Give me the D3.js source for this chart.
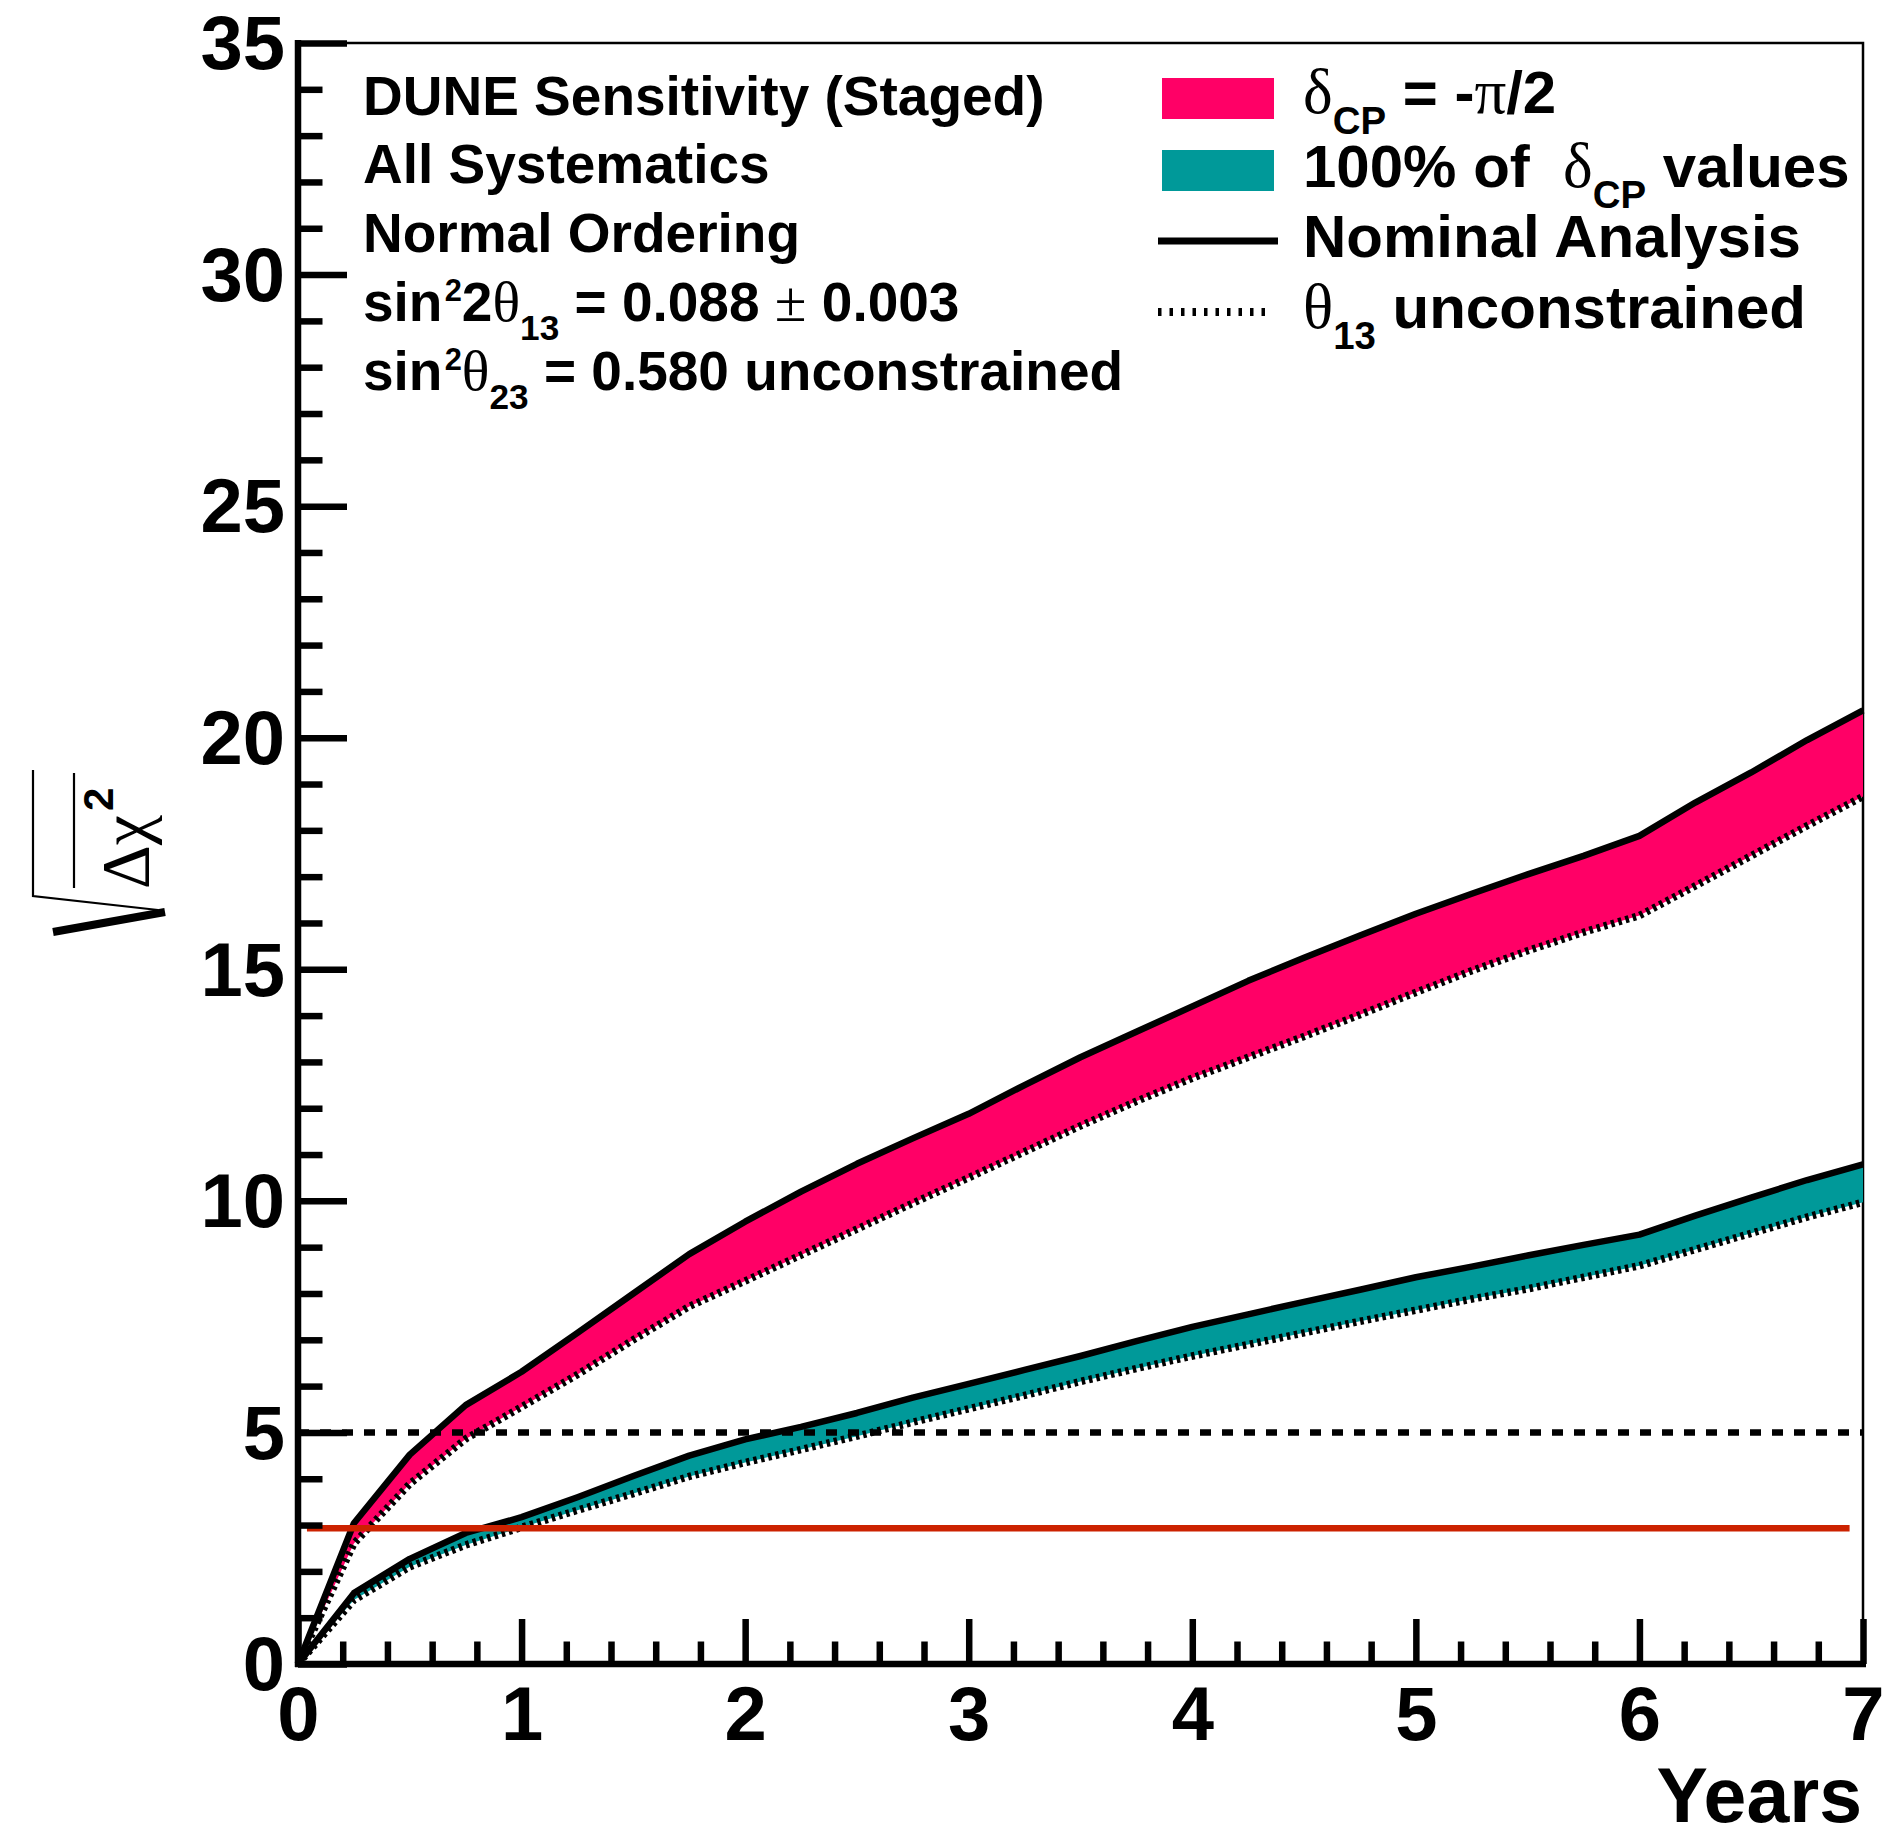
<!DOCTYPE html>
<html><head><meta charset="utf-8">
<script src="https://cdn.jsdelivr.net/npm/d3@7"></script>
<style>html,body{margin:0;padding:0;background:#fff;} svg{display:block;} text{white-space:pre;}</style>
</head><body>
<svg id="c" width="1886" height="1834"></svg>
<script>
// ---------------- data ----------------
const years = [0,0.25,0.5,0.75,1,1.25,1.5,1.75,2,2.25,2.5,2.75,3,3.25,3.5,3.75,4,4.25,4.5,4.75,5,5.25,5.5,5.75,6,6.25,6.5,6.75,7];
// delta_CP = -pi/2 band
const pinkNominal = [0,3.04,4.52,5.59,6.31,7.15,8.0,8.85,9.55,10.2,10.8,11.35,11.88,12.5,13.1,13.65,14.2,14.75,15.25,15.73,16.2,16.63,17.05,17.45,17.88,18.6,19.25,19.95,20.59];
const pinkTheta13Free = [0,2.6,3.89,4.86,5.55,6.25,7.0,7.72,8.27,8.83,9.39,9.95,10.5,11.06,11.62,12.15,12.65,13.1,13.55,14.02,14.5,14.97,15.4,15.8,16.16,16.8,17.45,18.1,18.73];
// 100% of delta_CP values band
const tealNominal = [0,1.53,2.27,2.83,3.17,3.6,4.06,4.5,4.85,5.12,5.42,5.75,6.05,6.35,6.65,6.97,7.28,7.55,7.82,8.08,8.35,8.58,8.82,9.05,9.27,9.68,10.07,10.45,10.79];
const tealTheta13Free = [0,1.38,2.1,2.57,2.95,3.32,3.68,4.05,4.35,4.63,4.92,5.22,5.51,5.8,6.1,6.38,6.65,6.9,7.15,7.4,7.64,7.88,8.1,8.35,8.6,8.95,9.3,9.65,9.97];
// reference levels
const fiveSigma = {value:5, from:0, to:7};
const threeSigma = {value:2.93, from:0.04, to:6.94};
// ticks
const xMajor = [0,1,2,3,4,5,6,7];
const yMajor = [0,5,10,15,20,25,30,35];
const xMinor = d3.range(0, 36).map(i => +(i*0.2).toFixed(2)).filter(v => Math.abs(v - Math.round(v)) > 1e-6);
const yMinor = d3.range(0, 36).filter(v => v % 5 !== 0);

const PINK = "#ff0066", TEAL = "#009999", RED = "#cc2200";
const SANS = "'Liberation Sans', Arial, Helvetica, sans-serif";
const SERIF = "'Liberation Serif', 'DejaVu Serif', serif";

// ---------------- layout ----------------
const svg = d3.select("#c");
const L = 298, R = 1863, T = 43, B = 1664;
const x = d3.scaleLinear().domain([0,7]).range([L,R]);
const y = d3.scaleLinear().domain([0,35]).range([B,T]);

const pinkData = years.map((t,i) => ({t, hi:pinkNominal[i], lo:pinkTheta13Free[i]}));
const tealData = years.map((t,i) => ({t, hi:tealNominal[i], lo:tealTheta13Free[i]}));

const area = d3.area().x(d => x(d.t)).y0(d => y(d.lo)).y1(d => y(d.hi));
const lineHi = d3.line().x(d => x(d.t)).y(d => y(d.hi));
const lineLo = d3.line().x(d => x(d.t)).y(d => y(d.lo));

// frame (thin)
svg.append("rect").attr("x",L).attr("y",T).attr("width",R-L).attr("height",B-T)
  .attr("fill","none").attr("stroke","#000").attr("stroke-width",2.5);

// bands
svg.append("path").datum(pinkData).attr("d",area).attr("fill",PINK);
svg.append("path").datum(tealData).attr("d",area).attr("fill",TEAL);

// dotted theta13-unconstrained lines
[pinkData, tealData].forEach(dat => {
  svg.append("path").datum(dat).attr("d",lineLo).attr("fill","none")
    .attr("stroke","#000").attr("stroke-width",7.5).attr("stroke-dasharray","3.5,4");
});
// solid nominal lines
[pinkData, tealData].forEach(dat => {
  svg.append("path").datum(dat).attr("d",lineHi).attr("fill","none")
    .attr("stroke","#000").attr("stroke-width",6.5).attr("stroke-linejoin","round");
});

// reference lines
svg.append("line").attr("x1",x(fiveSigma.from)).attr("x2",x(fiveSigma.to))
  .attr("y1",y(fiveSigma.value)).attr("y2",y(fiveSigma.value))
  .attr("stroke","#000").attr("stroke-width",6.5).attr("stroke-dasharray","11,11");
svg.append("line").attr("x1",x(threeSigma.from)).attr("x2",x(threeSigma.to))
  .attr("y1",y(threeSigma.value)).attr("y2",y(threeSigma.value))
  .attr("stroke",RED).attr("stroke-width",6.5);

// ---------------- axes ----------------
function styleAxis(g){
  g.select(".domain").remove();
  g.selectAll(".tick line").attr("stroke","#000").attr("stroke-width",6.5);
  g.selectAll(".tick text").attr("fill","#000").attr("font-family",SANS)
    .attr("font-weight","bold").attr("font-size",76);
}
const yAx = svg.append("g").attr("transform",`translate(${L},0)`)
  .call(d3.axisLeft(y).tickValues(yMajor).tickSize(-49).tickPadding(13).tickFormat(d3.format("d")));
styleAxis(yAx);
yAx.selectAll(".tick text").attr("dy","0.34em");
const yAxm = svg.append("g").attr("transform",`translate(${L},0)`)
  .call(d3.axisLeft(y).tickValues(yMinor).tickSize(-24.5).tickFormat(""));
styleAxis(yAxm);

const xAx = svg.append("g").attr("transform",`translate(0,${B})`)
  .call(d3.axisBottom(x).tickValues(xMajor).tickSize(-45).tickPadding(22).tickFormat(d3.format("d")));
styleAxis(xAx);
const xAxm = svg.append("g").attr("transform",`translate(0,${B})`)
  .call(d3.axisBottom(x).tickValues(xMinor).tickSize(-22.5).tickFormat(""));
styleAxis(xAxm);

// thick axis lines
svg.append("line").attr("x1",L).attr("x2",L).attr("y1",T-3).attr("y2",B+3)
  .attr("stroke","#000").attr("stroke-width",6.5);
svg.append("line").attr("x1",L-3).attr("x2",R+3).attr("y1",B).attr("y2",B)
  .attr("stroke","#000").attr("stroke-width",6.5);

// x title
svg.append("text").attr("x",1862).attr("y",1822).attr("text-anchor","end")
  .attr("font-family",SANS).attr("font-weight","bold").attr("font-size",77).text("Years");

// y title: sqrt(Delta chi^2)
const rad = svg.append("g").attr("fill","none").attr("stroke","#000");
rad.append("path").attr("d","M53,932 L165,912").attr("stroke-width",8);
rad.append("path").attr("d","M158,910 L33,896 L33,770").attr("stroke-width",2.2);
rad.append("path").attr("d","M74,773 L74,888").attr("stroke-width",2.2);
const yt = svg.append("text").attr("transform","translate(148,889) rotate(-90)")
  .attr("font-family",SERIF).attr("font-size",68).attr("fill","#000");
yt.append("tspan").text("Δχ");
yt.append("tspan").attr("dy",-35).attr("dx",4).attr("font-family",SANS).attr("font-weight","bold").attr("font-size",42).text("2");

// ---------------- rich text helper ----------------
function rich(parent, px, py, fs, parts){
  const t = parent.append("text").attr("x",px).attr("y",py)
    .attr("font-family",SANS).attr("font-weight","bold").attr("font-size",fs).attr("fill","#000");
  let shift = 0;
  parts.forEach(p => {
    const str = p[0], kind = p[1] || "n";
    let target = 0, size = fs, fam = SANS, wt = "bold", dx = 0;
    if (kind === "sup") { target = -0.36*fs; size = 0.56*fs; dx = 0.04*fs; }
    else if (kind === "sub") { target = 0.35*fs; size = 0.64*fs; }
    else if (kind === "g") { fam = SERIF; wt = "normal"; size = 1.05*fs; }
    t.append("tspan").attr("dy", target - shift).attr("dx", dx).attr("font-size",size)
      .attr("font-family",fam).attr("font-weight",wt).text(str);
    shift = target;
  });
  return t;
}

// left annotation block
const infoLines = [
  [["DUNE Sensitivity (Staged)"]],
  [["All Systematics"]],
  [["Normal Ordering"]],
  [["sin"],["2","sup"],["2"],["θ","g"],["13","sub"],[" = 0.088 "],["±","g"],[" 0.003"]],
  [["sin"],["2","sup"],["θ","g"],["23","sub"],[" = 0.580 unconstrained"]]
];
const infoBase = [115,183,252,321,390];
infoLines.forEach((parts,i) => rich(svg, 363, infoBase[i], 55, parts));

// legend
const legLines = [
  [["δ","g"],["CP","sub"],[" = -"],["π","g"],["/2"]],
  [["100% of  "],["δ","g"],["CP","sub"],[" values"]],
  [["Nominal Analysis"]],
  [["θ","g"],["13","sub"],[" unconstrained"]]
];
const legBase = [113,187,257,328];
legLines.forEach((parts,i) => rich(svg, 1303, legBase[i], 60, parts));
svg.append("rect").attr("x",1162).attr("y",78).attr("width",112).attr("height",41).attr("fill",PINK);
svg.append("rect").attr("x",1162).attr("y",150).attr("width",112).attr("height",41).attr("fill",TEAL);
svg.append("line").attr("x1",1158).attr("x2",1278).attr("y1",241).attr("y2",241)
  .attr("stroke","#000").attr("stroke-width",7);
svg.append("line").attr("x1",1158).attr("x2",1272).attr("y1",312).attr("y2",312)
  .attr("stroke","#000").attr("stroke-width",8).attr("stroke-dasharray","3.5,8")
;
</script>
</body></html>
